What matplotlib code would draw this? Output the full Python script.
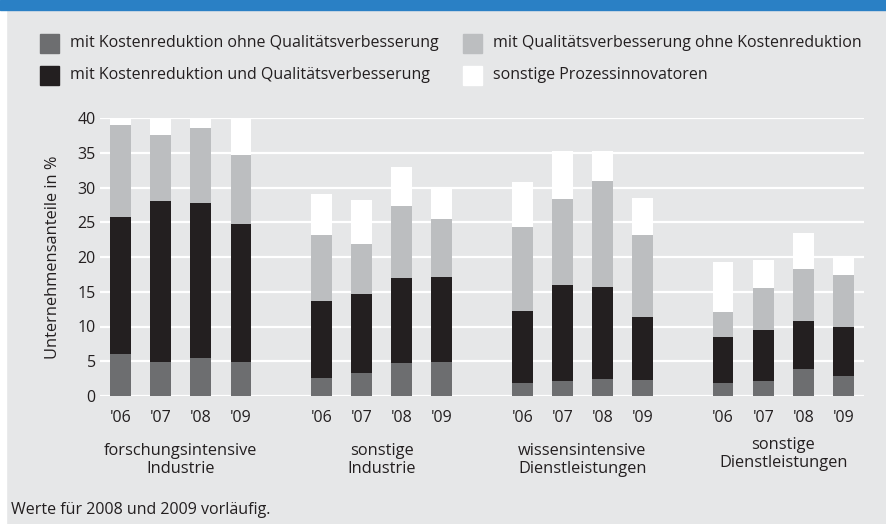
import matplotlib
matplotlib.use("Agg")
import matplotlib.pyplot as plt
from matplotlib.patches import Rectangle
import numpy as np

# Data (shares of firms in %, stacked segments)
years = ["'06", "'07", "'08", "'09"]
groups = ["forschungsintensive\nIndustrie", "sonstige\nIndustrie",
          "wissensintensive\nDienstleistungen", "sonstige\nDienstleistungen"]
series_names = ["mit Kostenreduktion ohne Qualitätsverbesserung",
                "mit Kostenreduktion und Qualitätsverbesserung",
                "mit Qualitätsverbesserung ohne Kostenreduktion",
                "sonstige Prozessinnovatoren"]

kosten_ohne_qual = [6.1, 4.9, 5.4, 4.9,  2.6, 3.3, 4.7, 4.9,  1.8, 2.1, 2.4, 2.3,  1.8, 2.1, 3.9, 2.9]
kosten_und_qual  = [19.7, 23.1, 22.3, 19.9,  11.1, 11.4, 12.3, 12.2,  10.4, 13.9, 13.3, 9.1,  6.7, 7.4, 6.9, 7.0]
qual_ohne_kosten = [13.2, 9.5, 10.9, 9.9,  9.4, 7.1, 10.4, 8.4,  12.1, 12.4, 15.3, 11.7,  3.6, 6.0, 7.5, 7.5]
sonstige         = [1.0, 2.5, 1.4, 5.3,  6.0, 6.4, 5.5, 4.5,  6.5, 6.8, 4.2, 5.4,  7.2, 4.1, 5.2, 2.8]

colors = ["#6d6e70", "#231f20", "#bcbec0", "#ffffff"]
bg = "#e6e7e8"
blue = "#2a80c5"
font = "Open Sans"
txt = "#231f20"

fig = plt.figure(figsize=(8.86, 5.24), dpi=100)
fig.patch.set_facecolor(bg)

# white strip at left and blue band on top
fig.patches.append(Rectangle((0, 0), 6 / 886, 1, transform=fig.transFigure, color="white", zorder=0))
fig.patches.append(Rectangle((0, 1 - 10 / 524), 1, 10 / 524, transform=fig.transFigure, color=blue, zorder=1))

ax = fig.add_axes([100 / 886, 1 - 396 / 524, 764 / 886, 278 / 524])
ax.set_facecolor(bg)

x = np.array([g * 5 + j for g in range(4) for j in range(4)], dtype=float)
bottom = np.zeros(len(x))
for vals, c in zip([kosten_ohne_qual, kosten_und_qual, qual_ohne_kosten, sonstige], colors):
    ax.bar(x, vals, bottom=bottom, width=0.52, color=c, zorder=3, linewidth=0)
    bottom += np.array(vals)

ax.set_ylim(0, 40)
ax.set_xlim(-0.51, 18.51)
ax.set_yticks(range(0, 41, 5))
ax.yaxis.grid(True, color="white", linewidth=1.6, zorder=1)
ax.set_axisbelow(True)
for s in ax.spines.values():
    s.set_visible(False)
ax.tick_params(axis="both", length=0, labelsize=11.5, labelcolor=txt)
ax.tick_params(axis="y", pad=3)
ax.tick_params(axis="x", pad=10)
ax.set_xticks(x)
ax.set_xticklabels(years * 4, fontfamily=font)
for lab in ax.get_yticklabels():
    lab.set_fontfamily(font)
ax.set_ylabel("Unternehmensanteile in %", fontsize=11.8, fontfamily=font, color=txt, labelpad=12)

# group labels
for g, name in enumerate(groups):
    cx = g * 5 + 1.5
    yoff = 0.0 if g < 3 else 0.022
    ax.text(cx, -0.23 + yoff, name, transform=ax.get_xaxis_transform(), ha="center", va="center",
            fontsize=11.8, fontfamily=font, color=txt, linespacing=1.2)

# legend
leg_items = [(40, 43, 0), (40, 75, 1), (463, 43, 2), (463, 75, 3)]
for lx, ly, i in leg_items:
    fig.patches.append(Rectangle((lx / 886, 1 - (ly + 9.5) / 524), 19 / 886, 19 / 524,
                                 transform=fig.transFigure, color=colors[i], zorder=2))
    fig.text((lx + 30) / 886, 1 - ly / 524, series_names[i], ha="left", va="center",
             fontsize=11.5, fontfamily=font, color=txt)

fig.text(11 / 886, 1 - 510 / 524, "Werte für 2008 und 2009 vorläufig.", ha="left", va="center",
         fontsize=11.5, fontfamily=font, color=txt)

fig.savefig("out.png", dpi=100, facecolor=fig.get_facecolor())
